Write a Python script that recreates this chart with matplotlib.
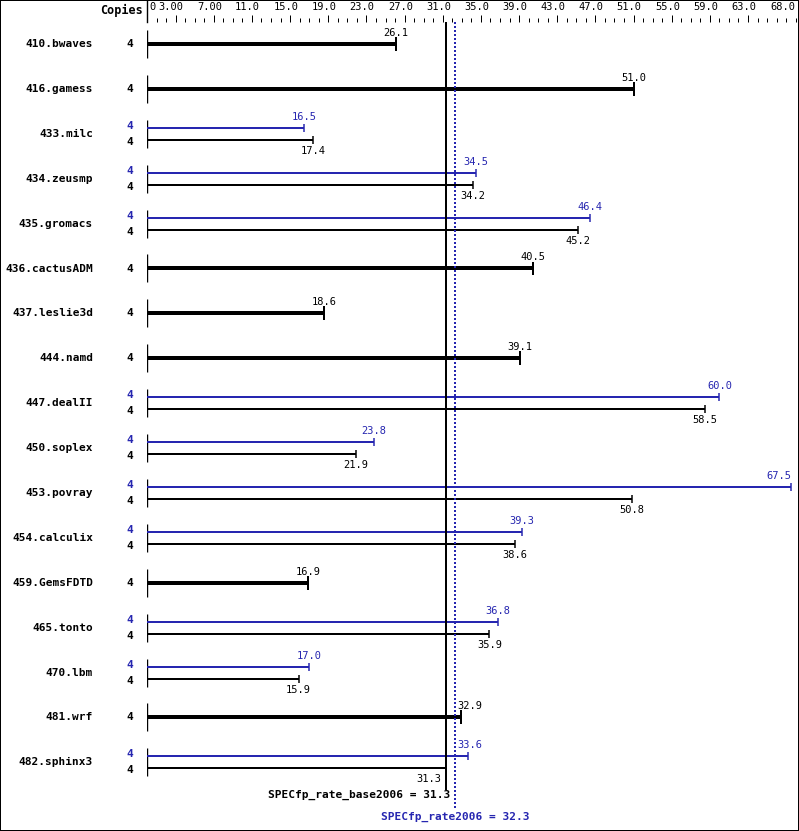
import matplotlib
matplotlib.use("Agg")
import matplotlib.pyplot as plt
from matplotlib.patches import Rectangle
from matplotlib.transforms import blended_transform_factory

# Datos del grafico (SPECfp_rate2006)
benchmarks = ["410.bwaves", "416.gamess", "433.milc", "434.zeusmp", "435.gromacs",
              "436.cactusADM", "437.leslie3d", "444.namd", "447.dealII", "450.soplex",
              "453.povray", "454.calculix", "459.GemsFDTD", "465.tonto", "470.lbm",
              "481.wrf", "482.sphinx3"]
base_vals = [26.1, 51.0, 17.4, 34.2, 45.2, 40.5, 18.6, 39.1, 58.5, 21.9,
             50.8, 38.6, 16.9, 35.9, 15.9, 32.9, 31.3]
peak_vals = [None, None, 16.5, 34.5, 46.4, None, None, None, 60.0, 23.8,
             67.5, 39.3, None, 36.8, 17.0, None, 33.6]
copies = [4] * 17
base_score = 31.3
peak_score = 32.3
major_ticks = [3, 7, 11, 15, 19, 23, 27, 31, 35, 39, 43, 47, 51, 55, 59, 63]
major_labels = ["3.00", "7.00", "11.0", "15.0", "19.0", "23.0", "27.0", "31.0",
                "35.0", "39.0", "43.0", "47.0", "51.0", "55.0", "59.0", "63.0"]

BLUE = "#2626b0"
W, H = 799, 831
PX = 0.72  # 1 pixel en puntos (dpi 100)
x0 = 147          # pixel del cero
scale = 9.54      # pixeles por unidad
xmax = (W - x0) / scale
row0, rowh = 44, 44.9
p = 1 / rowh      # 1 pixel en unidades de fila

fig = plt.figure(figsize=(W / 100, H / 100), dpi=100)
mono = "DejaVu Sans Mono"

# eje principal
ax = fig.add_axes([x0 / W, 0, 1 - x0 / W, 1])
ax.set_xlim(0, xmax)
ax.set_ylim((H - row0) / rowh, -row0 / rowh)
ax.axis("off")

# escala superior
axs = fig.add_axes([x0 / W, 1 - 22 / H, 1 - x0 / W, 22 / H])
axs.set_xlim(0, xmax)
axs.set_ylim(0, 1)
axs.patch.set_alpha(0)
for s in ["top", "right", "bottom"]:
    axs.spines[s].set_visible(False)
axs.spines["left"].set_linewidth(1.4 * PX)
axs.set_yticks([])
axs.set_xticks(major_ticks)
axs.set_xticks(range(1, 69), minor=True)
axs.tick_params(axis="x", which="major", direction="in", length=7 * PX, width=PX, labelbottom=False)
axs.tick_params(axis="x", which="minor", direction="in", length=4 * PX, width=PX)
for t, lab in zip(major_ticks, major_labels):
    axs.text(t - 0.45, 0.68, lab, ha="center", va="center", family=mono, fontsize=7.5)
axs.text(0.3, 0.68, "0", ha="left", va="center", family=mono, fontsize=7.5)
axs.text(68.0, 0.68, "68.0", ha="right", va="center", family=mono, fontsize=7.5)
fig.text(143 / W, 1 - 10 / H, "Copies", ha="right", va="center", family=mono,
         fontsize=8.5, fontweight="bold")

tr_names = blended_transform_factory(fig.transFigure, ax.transData)


def value_label(v, y, color):
    if 29.8 < v < 33.8:
        if v > (base_score + peak_score) / 2:
            ax.text(peak_score + 0.2, y, f"{v:.1f}", ha="left", va="center",
                    family=mono, fontsize=7.5, color=color)
        else:
            ax.text(base_score - 0.5, y, f"{v:.1f}", ha="right", va="center",
                    family=mono, fontsize=7.5, color=color)
    elif v + 1.3 > xmax:
        ax.text(v, y, f"{v:.1f}", ha="right", va="center", family=mono,
                fontsize=7.5, color=color)
    else:
        ax.text(v, y, f"{v:.1f}", ha="center", va="center", family=mono,
                fontsize=7.5, color=color)


for i, name in enumerate(benchmarks):
    ax.text(93 / W, i, name, transform=tr_names, ha="right", va="center",
            family=mono, fontsize=8, fontweight="bold")
    ax.vlines(0, i - 14 * p, i + 14 * p, color="black", lw=1.4 * PX)
    b = base_vals[i]
    pk = peak_vals[i]
    if pk is None:
        ax.hlines(i, 0, b, color="black", lw=4 * PX)
        ax.vlines(b, i - 7 * p, i + 7 * p, color="black", lw=2 * PX)
        value_label(b, i - 11 * p, "black")
        ax.text(130 / W, i, str(copies[i]), transform=tr_names, ha="center",
                va="center", family=mono, fontsize=8, fontweight="bold")
    else:
        yp, yb = i - 6 * p, i + 6 * p
        ax.hlines(yp, 0, pk, color=BLUE, lw=2 * PX)
        ax.vlines(pk, yp - 4 * p, yp + 4 * p, color=BLUE, lw=1.5 * PX)
        ax.hlines(yb, 0, b, color="black", lw=2 * PX)
        ax.vlines(b, yb - 4 * p, yb + 4 * p, color="black", lw=1.5 * PX)
        value_label(pk, i - 17 * p, BLUE)
        value_label(b, i + 17 * p, "black")
        ax.text(130 / W, i - 8 * p, str(copies[i]), transform=tr_names, ha="center",
                va="center", family=mono, fontsize=8, fontweight="bold", color=BLUE)
        ax.text(130 / W, i + 8 * p, str(copies[i]), transform=tr_names, ha="center",
                va="center", family=mono, fontsize=8, fontweight="bold")

# lineas de la media
ytop = (22 - row0) / rowh
ax.vlines(base_score, ytop, (790 - row0) / rowh, color="black", lw=2 * PX)
ax.vlines(peak_score, ytop, (810 - row0) / rowh, color=BLUE, lw=2 * PX,
          linestyles=(0, (1, 1)))
ax.text(base_score + 0.5, (795 - row0) / rowh, f"SPECfp_rate_base2006 = {base_score}",
        ha="right", va="center", family=mono, fontsize=8, fontweight="bold")
ax.text(peak_score, (817 - row0) / rowh, f"SPECfp_rate2006 = {peak_score}",
        ha="center", va="center", family=mono, fontsize=8, fontweight="bold", color=BLUE)

# marco
fig.patches.append(Rectangle((0, 0), 1, 1, transform=fig.transFigure, fill=False,
                             edgecolor="black", lw=2 * PX))

fig.savefig("out.png", dpi=100)
